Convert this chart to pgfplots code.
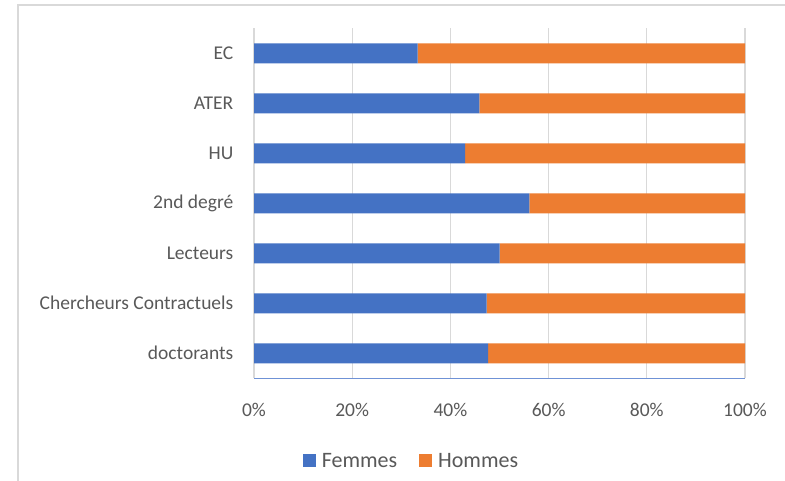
\documentclass[border=0pt]{standalone}
\usepackage{fontspec}
\setmainfont{Carlito}
\usepackage{pgfplots}
\pgfplotsset{compat=1.18}
\definecolor{fem}{HTML}{4472C4}
\definecolor{hom}{HTML}{ED7D31}
\definecolor{gridc}{HTML}{D9D9D9}
\definecolor{txt}{HTML}{595959}
\definecolor{axb}{HTML}{6F92D6}
\begin{document}
\begin{tikzpicture}[x=1bp,y=1bp]
\useasboundingbox (0,0) rectangle (785,481);
\fill[white] (0,0) rectangle (785,481);
\draw[gridc, line width=1.2bp] (18,0) -- (18,476) -- (785,476);
\begin{axis}[
  at={(254bp,102.7bp)}, anchor=south west,
  scale only axis, width=491bp, height=350bp,
  xbar stacked, bar width=20bp,
  xmin=0, xmax=100, ymin=-0.5, ymax=6.5,
  xtick={0,20,40,60,80,100},
  xticklabels={0\%,20\%,40\%,60\%,80\%,100\%},
  ytick={0,1,2,3,4,5,6},
  yticklabels={doctorants,Chercheurs Contractuels,Lecteurs,2nd degré,HU,ATER,EC},
  major tick length=0pt,
  xmajorgrids, major grid style={gridc, line width=1.2bp},
  axis x line*=bottom, axis y line*=left,
  x axis line style={axb, line width=1.2bp, -},
  y axis line style={draw=none},
  ticklabel style={font=\fontsize{19.5bp}{23bp}\selectfont, text=txt},
  xticklabel style={anchor=center, yshift=-32bp},
  yticklabel style={anchor=east, inner sep=0pt, xshift=-20.5bp},
  legend columns=2,
  legend style={at={(0.3187,-0.2363)}, anchor=center, draw=none, fill=none,
    font=\fontsize{22bp}{26bp}\selectfont, text=txt,
    nodes={inner sep=0pt},
    /tikz/column 2/.style={column sep=22bp}},
  legend image code/.code={\fill[#1] (0bp,-6.5bp) rectangle (13bp,6.5bp); \path (19bp,0bp);},
  clip=false,
]
\addplot[fill=fem, draw=none] coordinates {(47.7,0) (47.4,1) (50.0,2) (56.1,3) (43.0,4) (45.9,5) (33.3,6)};
\addplot[fill=hom, draw=none] coordinates {(52.3,0) (52.6,1) (50.0,2) (43.9,3) (57.0,4) (54.1,5) (66.7,6)};
\legend{Femmes,Hommes}
\end{axis}
\end{tikzpicture}
\end{document}
